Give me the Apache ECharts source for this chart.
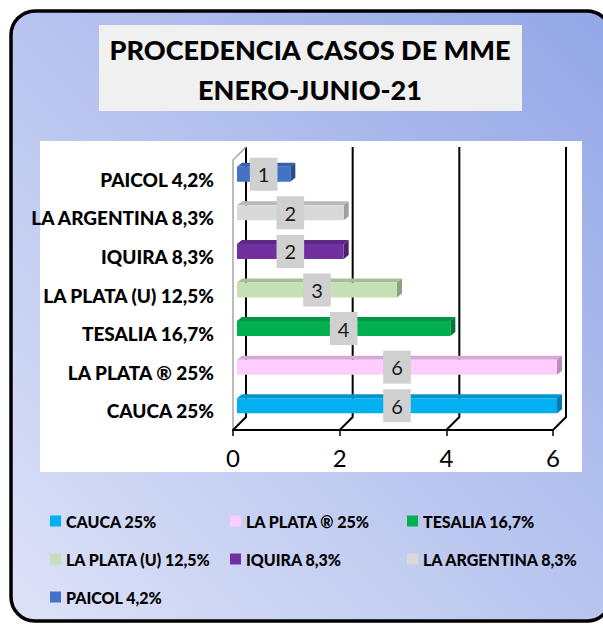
<!DOCTYPE html>
<html>
<head>
<meta charset="utf-8">
<script src="https://cdn.jsdelivr.net/npm/echarts@6/dist/echarts.min.js"></script>
<style>
  html, body { margin: 0; padding: 0; background: #fff; }
  #chart { width: 603px; height: 624px; }
</style>
</head>
<body>
<div id="chart"></div>
<script>
// data, bottom category first
const categories = ["CAUCA 25%", "LA PLATA ® 25%", "TESALIA 16,7%", "LA PLATA (U) 12,5%", "IQUIRA 8,3%", "LA ARGENTINA 8,3%", "PAICOL 4,2%"];
const cases = [6, 6, 4, 3, 2, 2, 1];
const xTicks = [0, 2, 4, 6];
const titleLines = ["PROCEDENCIA CASOS DE MME", "ENERO-JUNIO-21"];

const frontColors = ["#00b0f0", "#ffccff", "#00b050", "#c5e0b4", "#7030a0", "#d9d9d9", "#4472c4"];
const topColors = ["#0094cc", "#d6a8d6", "#009443", "#a6bf98", "#5c2785", "#bababa", "#3660a8"];
const sideColors = ["#007aa8", "#b88fb8", "#007836", "#8ca37f", "#4a1f6b", "#9e9e9e", "#2a4d88"];

const FONT = "Lato, 'Liberation Sans', sans-serif";
const WALL = [13, -13]; // depth of the back wall
const BAR_OFF = [4, -5];
const BAR_DEPTH = [5, -4];
const BAR_H = 15;

const chart = echarts.init(document.getElementById("chart"), null, { renderer: "svg" });

function barRenderer(i) {
  return function (params, api) {
    const p0 = api.coord([0, api.value(1)]);
    const p1 = api.coord([api.value(0), api.value(1)]);
    const x0 = p0[0] + BAR_OFF[0];
    const x1 = p1[0] + BAR_OFF[0];
    const y = p0[1] + BAR_OFF[1] - BAR_H / 2;
    const dx = BAR_DEPTH[0];
    const dy = BAR_DEPTH[1];
    return {
      type: "group",
      children: [
        { type: "polygon", shape: { points: [[x0, y], [x1, y], [x1 + dx, y + dy], [x0 + dx, y + dy]] }, style: { fill: topColors[i] } },
        { type: "polygon", shape: { points: [[x1, y], [x1 + dx, y + dy], [x1 + dx, y + dy + BAR_H], [x1, y + BAR_H]] }, style: { fill: sideColors[i] } },
        { type: "rect", shape: { x: x0, y: y, width: x1 - x0, height: BAR_H }, style: { fill: frontColors[i] } },
        {
          type: "text", z2: 50, x: (x0 + x1) / 2, y: y + BAR_H / 2,
          style: {
            text: String(api.value(0)), fill: "#1a1a1a", font: "20px " + FONT,
            align: "center", verticalAlign: "middle",
            backgroundColor: "#d0d0d0", padding: [7, 8, 6, 8],
          },
        },
      ],
    };
  };
}

function wallRenderer(params, api) {
  const cs = params.coordSys;
  const x = api.coord([api.value(0), 0])[0];
  const floor = cs.y + cs.height;
  const top = cs.y;
  const children = [
    { type: "polyline", shape: { points: [[x, floor], [x + WALL[0], floor + WALL[1]], [x + WALL[0], top + WALL[1]]] }, style: { stroke: "#000", lineWidth: 2, fill: null } },
  ];
  if (api.value(0) === 0) {
    children.push({ type: "line", shape: { x1: x, y1: top, x2: x + WALL[0], y2: top + WALL[1] }, style: { stroke: "#a6a6a6", lineWidth: 1.5 } });
  }
  return { type: "group", children };
}

const legendCols = [50, 230, 407];
const legendRows = [522, 560, 598];

const series = categories.map((name, i) => ({
  name,
  type: "custom",
  z: 3,
  itemStyle: { color: frontColors[i] },
  renderItem: barRenderer(i),
  encode: { x: 0, y: 1 },
  data: [[cases[i], i]],
}));
series.unshift({
  name: "walls",
  type: "custom",
  z: 1,
  silent: true,
  renderItem: wallRenderer,
  encode: { x: 0 },
  data: xTicks.map((v) => [v]),
});

chart.setOption({
  animation: false,
  graphic: [
    {
      type: "rect", z: -10, silent: true,
      shape: { x: 11, y: 11, width: 600, height: 610, r: 24 },
      style: {
        fill: new echarts.graphic.LinearGradient(0, 1, 1, 0, [
          { offset: 0, color: "#dde2f7" },
          { offset: 1, color: "#93a7e7" },
        ]),
        stroke: "#000", lineWidth: 3.5,
      },
    },
    { type: "rect", z: -9, silent: true, shape: { x: 99, y: 25, width: 423, height: 86 }, style: { fill: "#f0f0f0" } },
    {
      type: "text", z: -8, silent: true, x: 310, y: 69,
      style: { text: titleLines.join("\n"), font: "900 27px " + FONT, fill: "#000", align: "center", verticalAlign: "middle", lineHeight: 40 },
    },
    { type: "rect", z: -9, silent: true, shape: { x: 40, y: 141, width: 542, height: 331 }, style: { fill: "#fff" } },
  ],
  legend: categories.map((name, i) => ({
    data: [name],
    left: legendCols[i % 3],
    top: legendRows[Math.floor(i / 3)] - 9,
    padding: 0,
    itemWidth: 11,
    itemHeight: 11,
    icon: "rect",
    textStyle: { fontFamily: FONT, fontWeight: 900, fontSize: 16, color: "#000" },
  })),
  grid: { left: 233, right: 50, top: 160, bottom: 194 },
  xAxis: {
    type: "value", min: 0, max: 6, interval: 2,
    axisLine: { show: true, lineStyle: { color: "#000", width: 2 } },
    axisTick: { show: true, length: 6, lineStyle: { color: "#000", width: 1.5 } },
    axisLabel: { fontFamily: FONT, fontSize: 24, color: "#000", margin: 15 },
    splitLine: { show: false },
  },
  yAxis: {
    type: "category", data: categories,
    axisLine: { lineStyle: { color: "#a6a6a6", width: 1.5 } },
    axisTick: { length: 5, lineStyle: { color: "#a6a6a6", width: 1.5 } },
    axisLabel: { fontFamily: FONT, fontWeight: 900, fontSize: 19, color: "#000", margin: 19 },
  },
  series,
});
</script>
</body>
</html>
